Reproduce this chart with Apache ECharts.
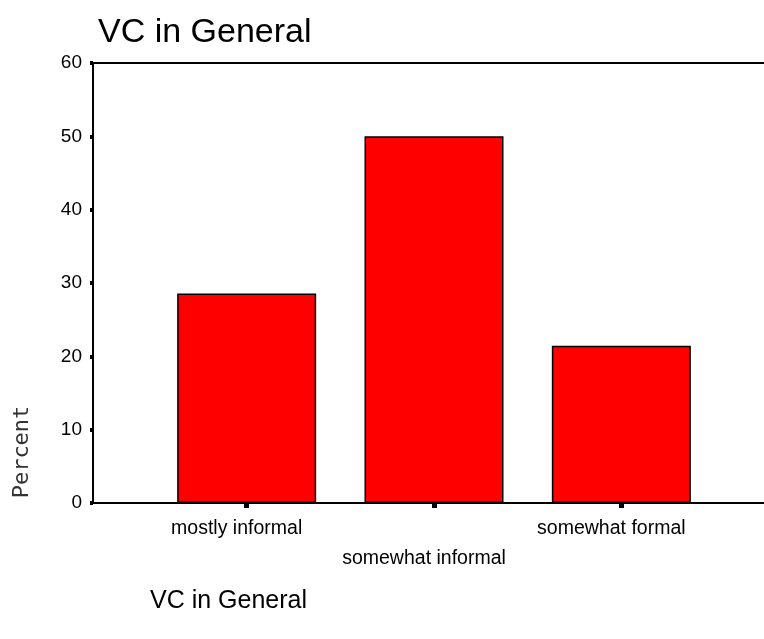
<!DOCTYPE html>
<html><head><meta charset="utf-8">
<script src="https://cdn.jsdelivr.net/npm/echarts@6/dist/echarts.min.js"></script>
<style>html,body{margin:0;padding:0;background:#fff}#c{width:764px;height:639px}</style>
</head><body><div id="c"></div>
<script>
const categories = ['mostly informal', 'somewhat informal', 'somewhat formal'];
const percentValues = [28.57, 50.0, 21.43];
const yMin = 0, yMax = 60, yStep = 10;
const titleText = 'VC in General';
const yAxisTitle = 'Percent';
const footerText = 'VC in General';

const FONT = '"Liberation Sans", Arial, sans-serif';
const chart = echarts.init(document.getElementById('c'), null, {renderer: 'canvas'});
const gridTop = 63, gridBottom = 136;
chart.setOption({
  animation: false,
  backgroundColor: '#ffffff',
  title: {
    text: titleText, left: 93, top: 11,
    textStyle: {fontFamily: FONT, fontSize: 34, fontWeight: 'normal', color: '#000'}
  },
  grid: [
    {left: 93, right: 0, top: gridTop, bottom: gridBottom},
    {left: 153, width: 562, top: gridTop, bottom: gridBottom}
  ],
  xAxis: [
    {gridIndex: 0, type: 'value', min: 0, max: 1, position: 'bottom',
     axisLine: {show: true, lineStyle: {color: '#000', width: 2}},
     axisTick: {show: false}, axisLabel: {show: false}, splitLine: {show: false}},
    {gridIndex: 0, type: 'value', min: 0, max: 1, position: 'top',
     axisLine: {show: true, lineStyle: {color: '#000', width: 2}},
     axisTick: {show: false}, axisLabel: {show: false}, splitLine: {show: false}},
    {gridIndex: 1, type: 'category', data: categories, position: 'bottom',
     axisLine: {show: false},
     axisTick: {show: true, alignWithLabel: true, length: 5, lineStyle: {color: '#000', width: 5}},
     axisLabel: {
       interval: 0, margin: 11, color: '#000', fontFamily: FONT, fontSize: 19.5, lineHeight: 30,
       padding: [0, 20, 0, 0],
       formatter: function (v, i) { return i % 2 === 1 ? '\n' + v : v; }
     }}
  ],
  yAxis: [
    {gridIndex: 0, type: 'value', min: yMin, max: yMax, interval: yStep,
     axisLine: {show: true, lineStyle: {color: '#000', width: 2}},
     axisTick: {show: true, length: 3, lineStyle: {color: '#000', width: 4}},
     axisLabel: {color: '#000', fontFamily: FONT, fontSize: 19, margin: 11, padding: [3, 0, 0, 0]},
     splitLine: {show: false}},
    {gridIndex: 1, type: 'value', min: yMin, max: yMax, interval: yStep, show: false}
  ],
  series: [{
    type: 'bar', xAxisIndex: 2, yAxisIndex: 1,
    data: percentValues, barWidth: 139,
    itemStyle: {color: '#ff0000', borderColor: '#000', borderWidth: 1.5}
  }],
  graphic: [
    {type: 'text', x: 22, y: 452, rotation: Math.PI / 2,
     style: {text: yAxisTitle, fontFamily: '"DejaVu Sans Mono", monospace', fontSize: 22, fill: '#333',
             textAlign: 'center', textVerticalAlign: 'middle'}},
    {type: 'text', x: 150, y: 601,
     style: {text: footerText, fontFamily: FONT, fontSize: 25, fill: '#000',
             textAlign: 'left', textVerticalAlign: 'middle'}}
  ]
});
</script></body></html>
